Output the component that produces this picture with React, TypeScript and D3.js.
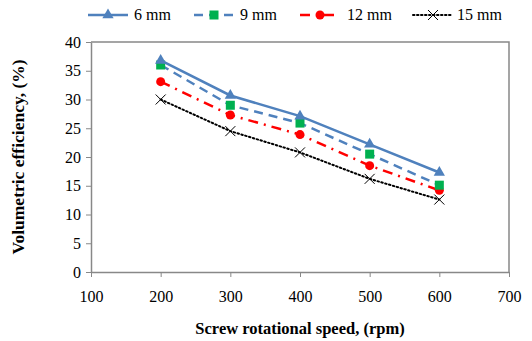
import React, { useEffect, useRef } from "react";
import * as d3 from "d3";

const speeds = [200, 300, 400, 500, 600];
const eff6 = [36.8, 30.7, 27.1, 22.2, 17.3];
const eff9 = [36.0, 29.0, 25.9, 20.5, 15.1];
const eff12 = [33.1, 27.3, 23.9, 18.5, 14.2];
const eff15 = [30.0, 24.5, 20.8, 16.2, 12.6];
const xTicks = [100, 200, 300, 400, 500, 600, 700];
const yTicks = [0, 5, 10, 15, 20, 25, 30, 35, 40];

const series = [
  { name: "6 mm", values: eff6, color: "#4F81BD", dash: null, width: 2.5, marker: "triangle", mcolor: "#4F81BD" },
  { name: "9 mm", values: eff9, color: "#4F81BD", dash: "9,6", width: 2.5, marker: "square", mcolor: "#00B050" },
  { name: "12 mm", values: eff12, color: "#FF0000", dash: "10,6,2,6", width: 2.5, marker: "circle", mcolor: "#FF0000" },
  { name: "15 mm", values: eff15, color: "#000000", dash: "1.5,2.5", width: 2, marker: "cross", mcolor: "#000000" },
];

const FONT = "Liberation Serif, Times New Roman, serif";

function App() {
  const svgRef = useRef<SVGSVGElement>(null);
  const width = 532;
  const height = 341;
  const margin = { top: 42, right: 23, bottom: 69, left: 91 };

  useEffect(() => {
    const svg = d3.select(svgRef.current);
    svg.selectAll("*").remove();

    const x = d3.scaleLinear().domain([100, 700]).range([margin.left, width - margin.right]);
    const y = d3.scaleLinear().domain([0, 40]).range([height - margin.bottom, margin.top]);

    // frame (top + right)
    svg.append("path")
      .attr("d", `M${x(100)},${y(40)}H${x(700)}V${y(0)}`)
      .attr("fill", "none")
      .attr("stroke", "#888")
      .attr("stroke-width", 1.5);

    // axes
    const gx = svg.append("g")
      .attr("transform", `translate(0,${y(0)})`)
      .call(d3.axisBottom(x).tickValues(xTicks).tickSize(5).tickSizeOuter(0));
    gx.attr("font-family", FONT).attr("font-size", 16);
    gx.select(".domain").attr("stroke", "#888").attr("stroke-width", 1.5);
    gx.selectAll(".tick line").attr("stroke", "#888");
    gx.selectAll("text").attr("font-family", FONT).style("font-family", FONT).style("font-size", "16px").attr("fill", "#000").attr("dy", "1.35em");

    const gy = svg.append("g")
      .attr("transform", `translate(${x(100)},0)`)
      .call(d3.axisLeft(y).tickValues(yTicks).tickSize(5).tickSizeOuter(0));
    gy.attr("font-family", FONT).attr("font-size", 16);
    gy.select(".domain").attr("stroke", "#888").attr("stroke-width", 1.5);
    gy.selectAll(".tick line").attr("stroke", "#888");
    gy.selectAll("text").attr("font-family", FONT).style("font-family", FONT).style("font-size", "16px").attr("fill", "#000").attr("x", -10);

    // axis titles
    svg.append("text")
      .attr("x", (x(100) + x(700)) / 2)
      .attr("y", 334)
      .attr("text-anchor", "middle")
      .style("font-family", FONT)
      .style("font-weight", "bold")
      .style("font-size", "16.5px")
      .text("Screw rotational speed, (rpm)");

    svg.append("text")
      .attr("transform", `translate(24,${(y(0) + y(40)) / 2}) rotate(-90)`)
      .attr("text-anchor", "middle")
      .style("font-family", FONT)
      .style("font-weight", "bold")
      .style("font-size", "17.5px")
      .text("Volumetric efficiency, (%)");

    const drawMarker = (g: any, type: string, cx: number, cy: number, color: string) => {
      if (type === "triangle") {
        g.append("path").attr("d", d3.symbol(d3.symbolTriangle, 55)()).attr("transform", `translate(${cx},${cy})`).attr("fill", color);
      } else if (type === "square") {
        g.append("rect").attr("x", cx - 4.5).attr("y", cy - 4.5).attr("width", 9).attr("height", 9).attr("fill", color);
      } else if (type === "circle") {
        g.append("circle").attr("cx", cx).attr("cy", cy).attr("r", 4.5).attr("fill", color);
      } else {
        g.append("path")
          .attr("d", `M${cx - 5},${cy - 5}L${cx + 5},${cy + 5}M${cx - 5},${cy + 5}L${cx + 5},${cy - 5}`)
          .attr("stroke", color).attr("stroke-width", 1);
      }
    };

    const line = d3.line<number>().x((_, i) => x(speeds[i])).y((d) => y(d));

    // draw in reverse so 6 mm is on top
    [...series].reverse().forEach((s) => {
      const g = svg.append("g");
      g.append("path")
        .attr("d", line(s.values))
        .attr("fill", "none")
        .attr("stroke", s.color)
        .attr("stroke-width", s.width)
        .attr("stroke-dasharray", s.dash)
        .attr("stroke-linecap", s.marker === "cross" ? "round" : "butt");
      s.values.forEach((v, i) => drawMarker(g, s.marker, x(speeds[i]), y(v), s.mcolor));
    });

    // legend
    const legendPos = [
      { lx: 88, tx: 134 },
      { lx: 194, tx: 240 },
      { lx: 300, tx: 347 },
      { lx: 413, tx: 457 },
    ];
    series.forEach((s, i) => {
      const g = svg.append("g");
      const ly = 15;
      const { lx, tx } = legendPos[i];
      g.append("line")
        .attr("x1", lx).attr("x2", lx + 40)
        .attr("y1", ly).attr("y2", ly)
        .attr("stroke", s.color)
        .attr("stroke-width", s.width)
        .attr("stroke-dasharray", s.dash)
        .attr("stroke-linecap", s.marker === "cross" ? "round" : "butt");
      drawMarker(g, s.marker, lx + 20, ly, s.mcolor);
      g.append("text")
        .attr("x", tx).attr("y", ly + 5)
        .style("font-family", FONT)
        .style("font-size", "16px")
        .text(s.name);
    });
  }, []);

  return <svg ref={svgRef} width={width} height={height} style={{ position: "absolute", left: 0, top: 0, background: "#fff" }} />;
}

export default App;
